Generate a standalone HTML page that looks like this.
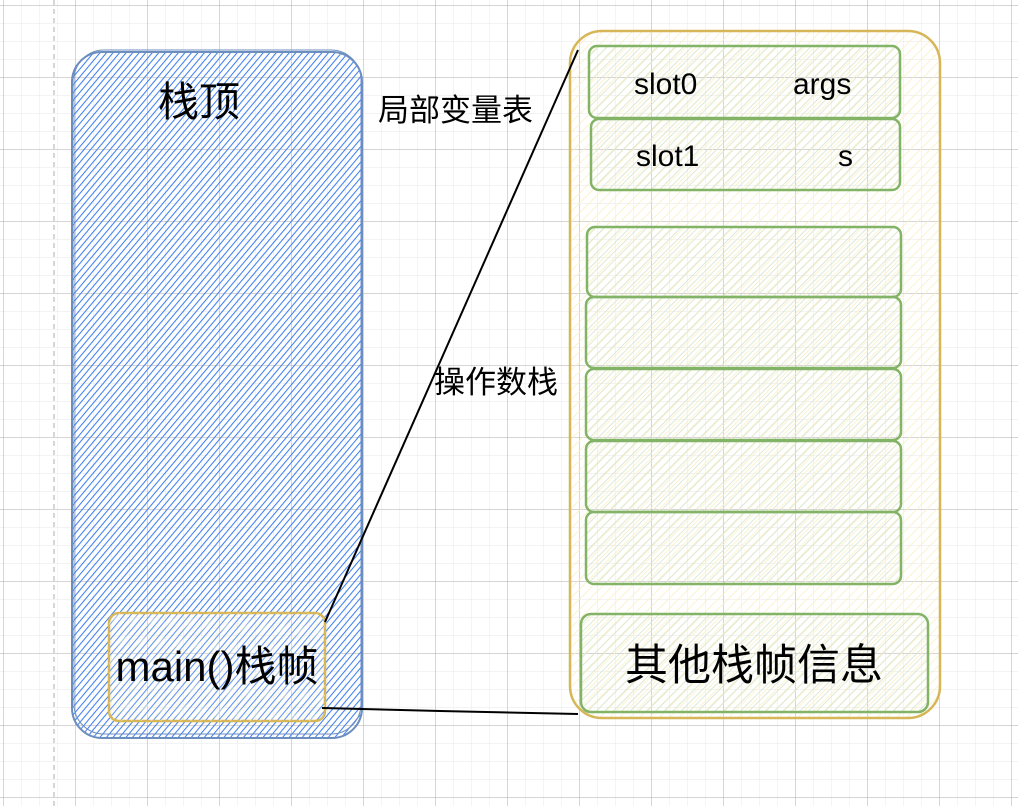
<!DOCTYPE html>
<html><head><meta charset="utf-8"><style>
html,body{margin:0;padding:0;background:#fff;}
svg{display:block;}
text{font-family:"Liberation Sans","Noto Sans CJK SC",sans-serif;fill:#000;}
</style></head><body>
<svg width="1018" height="806" viewBox="0 0 1018 806" xmlns="http://www.w3.org/2000/svg">
<defs>
<pattern id="minor" width="18" height="18" patternUnits="userSpaceOnUse" x="3" y="5">
<path d="M0 0H18M0 0V18" stroke="#ececec" stroke-width="1.2" fill="none"/>
</pattern>
<pattern id="major" width="72" height="72" patternUnits="userSpaceOnUse" x="3" y="5">
<path d="M0 0H72M0 0V72" stroke="#b8aeae" stroke-width="1" fill="none"/>
</pattern>
<pattern id="hb" width="5" height="5" patternUnits="userSpaceOnUse" patternTransform="rotate(40)">
<line x1="0" y1="0" x2="0" y2="5" stroke="#3f7ff0" stroke-width="2.1"/>
</pattern>
<pattern id="hy" width="7" height="7" patternUnits="userSpaceOnUse" patternTransform="rotate(45)">
<line x1="0" y1="0" x2="0" y2="7" stroke="#fbefc4" stroke-width="1.6"/>
</pattern>
<pattern id="hg" width="6" height="6" patternUnits="userSpaceOnUse" patternTransform="rotate(45)">
<line x1="0" y1="0" x2="0" y2="6" stroke="#d5e5c9" stroke-width="1.6"/>
</pattern>
</defs>
<rect width="1018" height="806" fill="url(#minor)"/>
<rect width="1018" height="806" fill="url(#major)"/>
<line x1="54" y1="0" x2="54" y2="806" stroke="#c8c8c8" stroke-width="1.5" stroke-dasharray="5,4"/>

<rect x="72" y="52" width="290" height="686" rx="30" fill="url(#hb)" stroke="#6c8ebf" stroke-width="2"/>
<rect x="74" y="50" width="287" height="684" rx="30" fill="none" stroke="#6c8ebf" stroke-width="1"/>
<text x="199" y="116" font-size="41" text-anchor="middle">栈顶</text>

<rect x="109" y="613" width="216" height="108" rx="10" fill="#fff" fill-opacity="0.15" stroke="#d6b656" stroke-width="2.5"/>
<rect x="109" y="613" width="216" height="108" rx="10" fill="url(#hy)" fill-opacity="0.7"/>
<text x="217" y="681" font-size="42" text-anchor="middle">main()栈帧</text>

<rect x="570" y="31" width="370" height="687" rx="32" fill="url(#hy)" stroke="#d6b656" stroke-width="2.5"/>

<g stroke="#82b366" stroke-width="2.5" fill="url(#hg)">
<rect x="589" y="46" width="311" height="72" rx="8"/>
<rect x="591" y="119" width="309" height="71" rx="8"/>
<rect x="587" y="227" width="314" height="70" rx="8"/>
<rect x="586" y="297" width="315" height="71" rx="8"/>
<rect x="586" y="369" width="315" height="71" rx="8"/>
<rect x="586" y="441" width="315" height="71" rx="8"/>
<rect x="586" y="512" width="315" height="72" rx="8"/>
<rect x="581" y="614" width="347" height="98" rx="10"/>
</g>
<text x="634" y="94" font-size="30">slot0</text>
<text x="793" y="94" font-size="30">args</text>
<text x="636" y="166" font-size="30">slot1</text>
<text x="838" y="166" font-size="30">s</text>
<text x="754" y="680" font-size="43" text-anchor="middle">其他栈帧信息</text>

<line x1="325" y1="622" x2="578" y2="50" stroke="#000" stroke-width="2"/>
<path d="M322 708 L440 711 L578 714" stroke="#000" stroke-width="2" fill="none"/>

<text x="378" y="121" font-size="31">局部变量表</text>
<text x="434" y="393" font-size="31">操作数栈</text>
</svg>
</body></html>
